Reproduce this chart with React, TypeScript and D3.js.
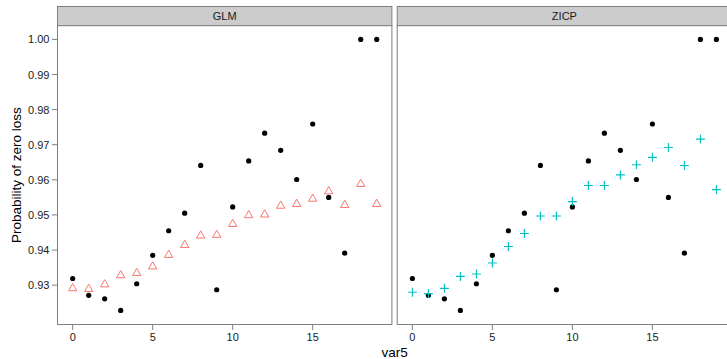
import { useEffect, useRef } from 'react';
import * as d3 from 'd3';

const var5 = [0, 1, 2, 3, 4, 5, 6, 7, 8, 9, 10, 11, 12, 13, 14, 15, 16, 17, 18, 19];
const observed = [
  0.9319, 0.9271, 0.9261, 0.9228, 0.9304, 0.9385, 0.9455, 0.9505, 0.9641, 0.9287,
  0.9523, 0.9654, 0.9733, 0.9684, 0.9601, 0.9759, 0.955, 0.9391, 1.0, 1.0,
];
const glmFit = [
  0.9291, 0.9289, 0.9302, 0.9328, 0.9334, 0.9353, 0.9386, 0.9414, 0.9441, 0.9443,
  0.9474, 0.9499, 0.9501, 0.9526, 0.9531, 0.9546, 0.9567, 0.9528, 0.9588, 0.9531,
];
const zicpFit = [
  0.928, 0.9276, 0.9291, 0.9325, 0.9332, 0.9363, 0.941, 0.9447, 0.9497, 0.9497,
  0.9538, 0.9584, 0.9584, 0.9614, 0.9643, 0.9664, 0.9692, 0.9641, 0.9716, 0.9572,
];
const panels = ['GLM', 'ZICP'];
const xTicks = [0, 5, 10, 15];
const yTicks = [0.93, 0.94, 0.95, 0.96, 0.97, 0.98, 0.99, 1.0];

const W = 727;
const H = 359;
const FONT = 'Liberation Sans, Arial, sans-serif';

export default function App() {
  const svgRef = useRef<SVGSVGElement>(null);

  useEffect(() => {
    if (!svgRef.current) return;
    const svg = d3.select(svgRef.current);
    svg.selectAll('*').remove();

    const panelW = 334.4;
    const gap = 5.3;
    const left0 = 57.5;
    const stripTop = 6.5;
    const stripH = 19.2;
    const plotTop = stripTop + stripH;
    const plotBottom = 324.5;

    const y = d3.scaleLinear().domain([0.9188, 1.0039]).range([plotBottom, plotTop]);

    // y axis
    const yAxis = svg.append('g');
    yTicks.forEach((t) => {
      yAxis.append('line')
        .attr('x1', left0 - 5.5).attr('x2', left0)
        .attr('y1', y(t)).attr('y2', y(t))
        .attr('stroke', '#7f7f7f').attr('stroke-width', 1);
      yAxis.append('text')
        .attr('x', left0 - 8).attr('y', y(t))
        .attr('text-anchor', 'end').attr('dominant-baseline', 'central')
        .style('font-family', FONT).style('font-size', '11px').style('fill', '#1a1a1a')
        .text(d3.format('.2f')(t));
    });

    panels.forEach((name, i) => {
      const x0 = left0 + i * (panelW + gap);
      const x = d3.scaleLinear().domain([-0.95, 19.95]).range([x0, x0 + panelW]);
      const g = svg.append('g');

      // strip
      g.append('rect')
        .attr('x', x0).attr('y', stripTop).attr('width', panelW).attr('height', stripH)
        .attr('fill', '#cccccc').attr('stroke', '#7f7f7f').attr('stroke-width', 1);
      g.append('text')
        .attr('x', x0 + panelW / 2).attr('y', stripTop + stripH / 2)
        .attr('text-anchor', 'middle').attr('dominant-baseline', 'central')
        .style('font-family', FONT).style('font-size', '11px').style('fill', '#1a1a1a')
        .text(name);

      // panel border
      g.append('rect')
        .attr('x', x0).attr('y', plotTop).attr('width', panelW).attr('height', plotBottom - plotTop)
        .attr('fill', 'white').attr('stroke', '#7f7f7f').attr('stroke-width', 1);

      // x ticks
      xTicks.forEach((t) => {
        g.append('line')
          .attr('x1', x(t)).attr('x2', x(t))
          .attr('y1', plotBottom).attr('y2', plotBottom + 5.5)
          .attr('stroke', '#7f7f7f').attr('stroke-width', 1);
        g.append('text')
          .attr('x', x(t)).attr('y', plotBottom + 12.5)
          .attr('text-anchor', 'middle').attr('dominant-baseline', 'central')
          .style('font-family', FONT).style('font-size', '11px').style('fill', '#1a1a1a')
          .text(t);
      });

      // observed
      g.selectAll('circle.obs')
        .data(var5)
        .enter()
        .append('circle')
        .attr('cx', (d) => x(d))
        .attr('cy', (_, j) => y(observed[j]))
        .attr('r', 2.6)
        .attr('fill', 'black');

      if (name === 'GLM') {
        const tri = d3.symbol().type(d3.symbolTriangle).size(30)();
        g.selectAll('path.fit')
          .data(var5)
          .enter()
          .append('path')
          .attr('d', tri)
          .attr('transform', (d, j) => `translate(${x(d)},${y(glmFit[j])})`)
          .attr('fill', 'none')
          .attr('stroke', '#F8766D')
          .attr('stroke-width', 1);
      } else {
        const s = 4.5;
        g.selectAll('path.fit')
          .data(var5)
          .enter()
          .append('path')
          .attr('d', `M${-s},0H${s}M0,${-s}V${s}`)
          .attr('transform', (d, j) => `translate(${x(d)},${y(zicpFit[j])})`)
          .attr('fill', 'none')
          .attr('stroke', '#00BFC4')
          .attr('stroke-width', 1.1);
      }
    });

    // axis titles
    svg.append('text')
      .attr('x', left0 + (2 * panelW + gap) / 2).attr('y', 352)
      .attr('text-anchor', 'middle').attr('dominant-baseline', 'central')
      .style('font-family', FONT).style('font-size', '13.5px').style('fill', 'black')
      .text('var5');
    svg.append('text')
      .attr('transform', `translate(16,${(plotTop + plotBottom) / 2}) rotate(-90)`)
      .attr('text-anchor', 'middle').attr('dominant-baseline', 'central')
      .style('font-family', FONT).style('font-size', '13.5px').style('fill', 'black')
      .text('Probability of zero loss');
  }, []);

  return (
    <svg
      ref={svgRef}
      width={W}
      height={H}
      style={{ position: 'absolute', left: 0, top: 0, background: 'white' }}
    />
  );
}
